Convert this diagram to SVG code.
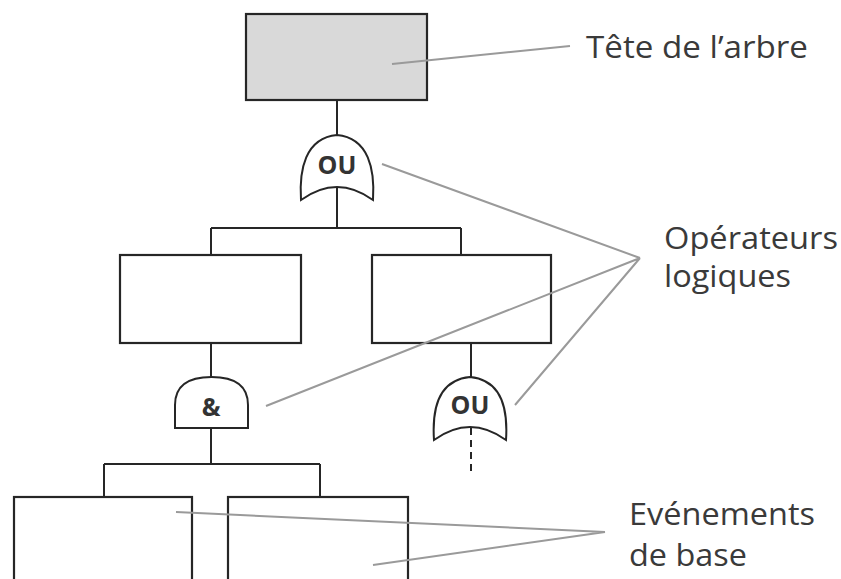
<svg xmlns="http://www.w3.org/2000/svg" width="841" height="579" viewBox="0 0 841 579">
<style>
.box{fill:#fff;stroke:#262626;stroke-width:2.2}
.top{fill:#d9d9d9}
.gate{fill:#fff;stroke:#262626;stroke-width:2}
.wire{fill:none;stroke:#262626;stroke-width:2}
.lead{fill:none;stroke:#9a9a9a;stroke-width:2}
.g{font-family:"Open Sans","Liberation Sans",sans-serif;font-weight:bold;font-size:25px;fill:#333;text-anchor:middle}
.lbl{font-family:"Open Sans","Liberation Sans",sans-serif;font-size:31px;fill:#3a3a3a}
</style>
<rect width="841" height="579" fill="#fff"/>
<g id="connectors">
<path class="wire" d="M337,100V136M337,187V228M211,228H461M211,228V255M461,228V255M211,343V378M211,428V464M104,464H320M104,464V497M320,464V497M471,343V378"/>
<path class="wire" d="M471,428V472" stroke-dasharray="7,5"/>
</g>
<g id="top-event"><rect class="box top" x="246" y="14" width="181" height="86"/></g>
<g id="gate-or-top"><path class="gate" d="M301,200 C299,170 305,138 337,135 C369,138 375,170 373,200 Q337,174 301,200 Z"/><text class="g" x="337" y="174">OU</text></g>
<g id="event-left"><rect class="box" x="120" y="255" width="181" height="88"/></g>
<g id="event-right"><rect class="box" x="372" y="255" width="179" height="88"/></g>
<g id="gate-and"><path class="gate" d="M175,428 V405 Q175,377 211.5,377 Q248,377 248,405 V428 Z"/><text class="g" x="211" y="416">&amp;</text></g>
<g id="gate-or-right"><path class="gate" d="M434,440 C432,410 438,380 470,377 C502,380 508,410 506,440 Q470,414 434,440 Z"/><text class="g" x="470" y="414">OU</text></g>
<g id="basic-left"><rect class="box" x="14" y="497" width="178" height="100"/></g>
<g id="basic-right"><rect class="box" x="228" y="497" width="180" height="100"/></g>
<g id="leaders">
<path class="lead" d="M392,64L570,46"/>
<path class="lead" d="M382,164L640,258M266,406L640,258M515,405L640,258"/>
<path class="lead" d="M176,512L605,532M373,565L605,532"/>
</g>
<g id="labels">
<text class="lbl" x="586" y="58" textLength="222" lengthAdjust="spacingAndGlyphs">Tête de l’arbre</text>
<text class="lbl" x="664" y="249" textLength="174" lengthAdjust="spacingAndGlyphs">Opérateurs</text>
<text class="lbl" x="664" y="287" textLength="127" lengthAdjust="spacingAndGlyphs">logiques</text>
<text class="lbl" x="629" y="525" textLength="186" lengthAdjust="spacingAndGlyphs">Evénements</text>
<text class="lbl" x="629" y="566" textLength="118" lengthAdjust="spacingAndGlyphs">de base</text>
</g>
</svg>
